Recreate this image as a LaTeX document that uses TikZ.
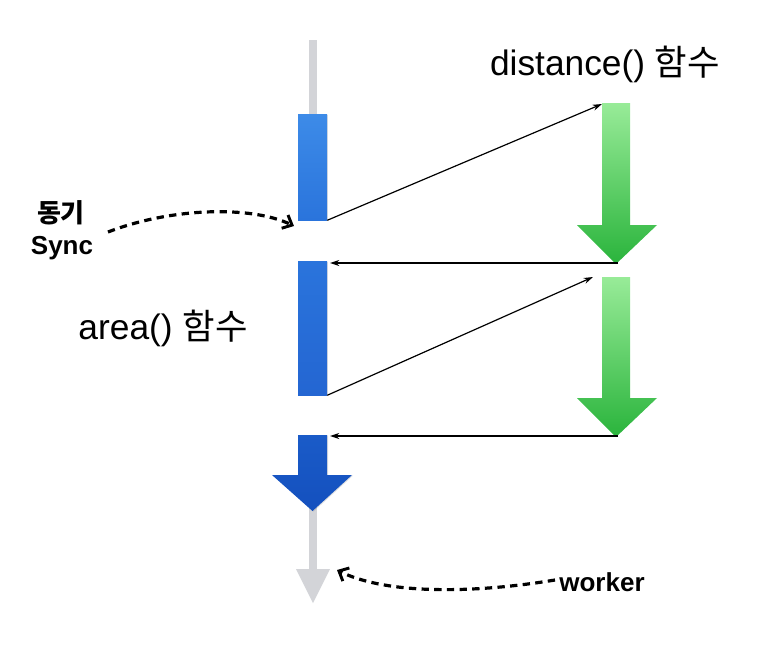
\documentclass[tikz,border=0pt]{standalone}
\usepackage{fontspec}
\usepackage{tikz}
\usetikzlibrary{arrows.meta,shadows}
\setmainfont{Liberation Sans}
\newfontfamily\kr{Noto Sans CJK KR}
\definecolor{trackgray}{HTML}{D3D4D8}
\definecolor{blueA}{HTML}{3D8BE8}
\definecolor{blueB}{HTML}{2A74DC}
\definecolor{blueC}{HTML}{2466D2}
\definecolor{blueD}{HTML}{1A5BC8}
\definecolor{blueE}{HTML}{1450BE}
\definecolor{greenA}{HTML}{98EB98}
\definecolor{greenB}{HTML}{2AB43C}
\begin{document}
\begin{tikzpicture}[x=0.75pt,y=-0.75pt,
  bar/.style={rectangle, minimum width=21.75pt, inner sep=0pt, drop shadow={shadow xshift=0.8pt, shadow yshift=-0.4pt, opacity=0.25}},
  call/.style={-{Stealth[length=7pt,width=4.5pt]}, line width=0.9pt, color=black},
  sync/.style={-{Straight Barb[length=6pt,width=11pt,line width=2.2pt]}, line width=2.4pt, dash pattern=on 5.5pt off 4pt, color=black},
  big/.style={font=\fontsize{26.5}{30}\selectfont},
  tag/.style={font=\fontsize{19.5}{22}\selectfont\bfseries}]
\useasboundingbox (0,0) rectangle (768,644);
\fill[trackgray] (309,40) rectangle (317,120);
\fill[trackgray] (309,505) rectangle (317,570);
\fill[trackgray] (296,569) -- (330,569) -- (313,603) -- cycle;
\node[bar, minimum height=79.5pt, top color=blueA, bottom color=blueB] (b1) at (312.5,167) {};
\node[bar, minimum height=100.5pt, top color=blueB, bottom color=blueC] (b2) at (312.5,328) {};
\shade[top color=blueD, bottom color=blueE, drop shadow={shadow xshift=0.8pt, shadow yshift=-0.4pt, opacity=0.25}] (298,435) -- (327,435) -- (327,475) -- (352,475) -- (312.5,511) -- (272,475) -- (298,475) -- cycle;
\shade[top color=greenA, bottom color=greenB] (602,103) -- (630,103) -- (630,225) -- (657,225) -- (616,264) -- (577,225) -- (602,225) -- cycle;
\shade[top color=greenA, bottom color=greenB] (602,277) -- (630,277) -- (630,398) -- (657,398) -- (616,437) -- (577,398) -- (602,398) -- cycle;
\coordinate (g1) at (602,104);
\coordinate (g1tip) at (618,263);
\coordinate (g2) at (593,277);
\coordinate (g2tip) at (618,436);
\coordinate (b2in) at (330,263);
\coordinate (b3in) at (330,436);
\node[big] (dist) at (605,64) {distance() {\kr 함수}};
\node[big] (area) at (163,328) {area() {\kr 함수}};
\node[tag] (dong) at (61,213) {\kr\bfseries 동기};
\node[tag] (sy) at (62,248) {Sync};
\node[tag] (wk) at (602,582) {worker};
\coordinate (syncstart) at (108,232);
\coordinate (syncend) at (294,226);
\coordinate (wkstart) at (555,580);
\coordinate (wkend) at (337,570);
\draw[call] (b1.south east) -- (g1);
\draw[call] (g1tip) -- (b2in);
\draw[call] (b2.south east) -- (g2);
\draw[call] (g2tip) -- (b3in);
\draw[sync] (syncstart) .. controls (170,208) and (250,205) .. (syncend);
\draw[sync] (wkstart) .. controls (470,594) and (385,594) .. (wkend);
\end{tikzpicture}
\end{document}
